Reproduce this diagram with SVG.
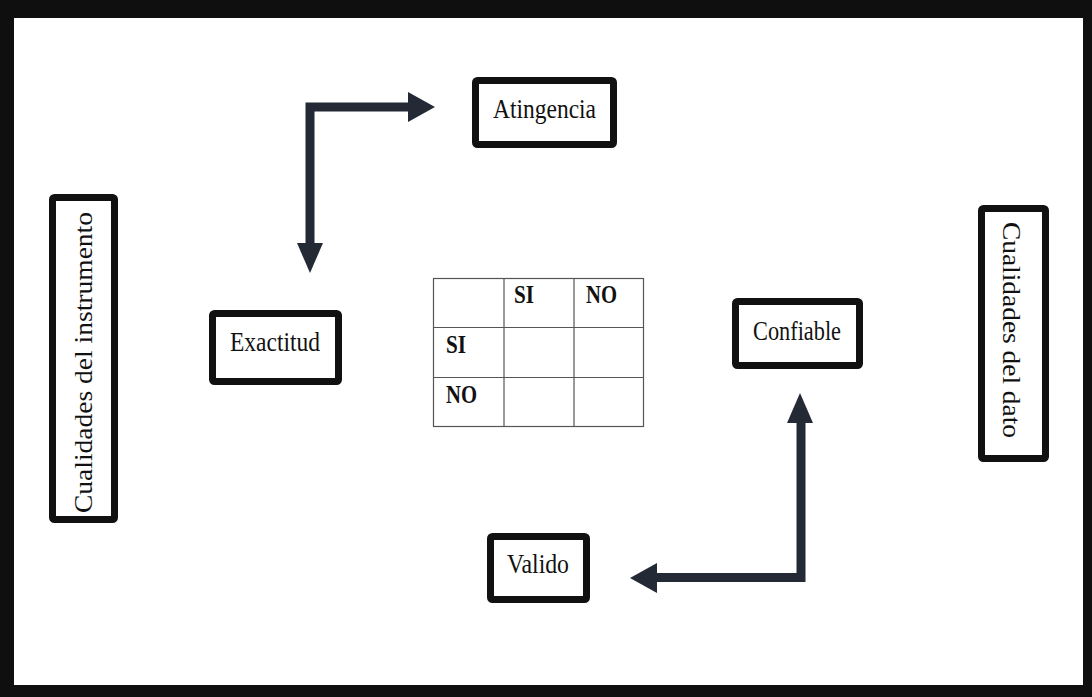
<svg xmlns="http://www.w3.org/2000/svg" width="1092" height="697" viewBox="0 0 1092 697">
  <style>
    .box { fill: #ffffff; stroke: #111111; stroke-width: 7; }
    .lbl { font-family: "Liberation Serif", "Times New Roman", serif; font-size: 27px; fill: #111111; text-anchor: middle; }
    .vlbl { font-family: "Liberation Serif", "Times New Roman", serif; font-size: 26px; fill: #111111; text-anchor: middle; }
    .cell { font-family: "Liberation Serif", "Times New Roman", serif; font-size: 26px; font-weight: bold; fill: #111111; }
    .grid { fill: none; stroke: #555555; stroke-width: 1.2; }
    .conn { fill: none; stroke: #232a35; stroke-width: 9; stroke-linejoin: miter; }
    .head { fill: #232a35; }
  </style>
  <rect x="0" y="0" width="1092" height="697" fill="#0f0f0f"/>
  <rect x="14" y="18" width="1069" height="667" fill="#ffffff"/>

  <g id="connectors">
    <path class="conn" d="M310,245 V107 H410"/>
    <polygon class="head" points="408,92 435,107 408,122"/>
    <polygon class="head" points="297,243 323,243 310,273"/>
    <path class="conn" d="M801,421 V577.5 H655"/>
    <polygon class="head" points="787,423 813,423 800,393"/>
    <polygon class="head" points="657,563 657,593 630,578"/>
  </g>

  <g id="node-instrumento">
    <rect class="box" x="52.5" y="197.5" width="62" height="322" rx="2"/>
    <text class="vlbl" transform="translate(92,362.5) rotate(-90)" x="0" y="0" textLength="301" lengthAdjust="spacingAndGlyphs">Cualidades del instrumento</text>
  </g>

  <g id="node-dato">
    <rect class="box" x="981.5" y="208.5" width="64" height="250" rx="2"/>
    <text class="vlbl" transform="translate(1003,330) rotate(90)" x="0" y="0" font-size="24" textLength="216" lengthAdjust="spacingAndGlyphs">Cualidades del dato</text>
  </g>

  <g id="node-atingencia">
    <rect class="box" x="475.5" y="80.5" width="138" height="64" rx="2"/>
    <text class="lbl" x="544.5" y="118" textLength="103" lengthAdjust="spacingAndGlyphs">Atingencia</text>
  </g>

  <g id="node-exactitud">
    <rect class="box" x="212.5" y="313.5" width="126" height="68" rx="2"/>
    <text class="lbl" x="275" y="351" textLength="90" lengthAdjust="spacingAndGlyphs">Exactitud</text>
  </g>

  <g id="node-confiable">
    <rect class="box" x="735.5" y="301.5" width="124" height="64" rx="2"/>
    <text class="lbl" x="797" y="340" textLength="88" lengthAdjust="spacingAndGlyphs">Confiable</text>
  </g>

  <g id="node-valido">
    <rect class="box" x="490.5" y="536.5" width="96" height="63" rx="2"/>
    <text class="lbl" x="538" y="573" textLength="62" lengthAdjust="spacingAndGlyphs">Valido</text>
  </g>

  <g id="node-table">
    <rect class="grid" x="433.5" y="278.5" width="210" height="148" fill="#ffffff"/>
    <line class="grid" x1="504" y1="278.5" x2="504" y2="426.5"/>
    <line class="grid" x1="574" y1="278.5" x2="574" y2="426.5"/>
    <line class="grid" x1="433.5" y1="327.5" x2="643.5" y2="327.5"/>
    <line class="grid" x1="433.5" y1="377.5" x2="643.5" y2="377.5"/>
    <text class="cell" x="514" y="303" textLength="20" lengthAdjust="spacingAndGlyphs">SI</text>
    <text class="cell" x="586" y="303" textLength="31" lengthAdjust="spacingAndGlyphs">NO</text>
    <text class="cell" x="446" y="353" textLength="20" lengthAdjust="spacingAndGlyphs">SI</text>
    <text class="cell" x="446" y="403" textLength="31" lengthAdjust="spacingAndGlyphs">NO</text>
  </g>
</svg>
